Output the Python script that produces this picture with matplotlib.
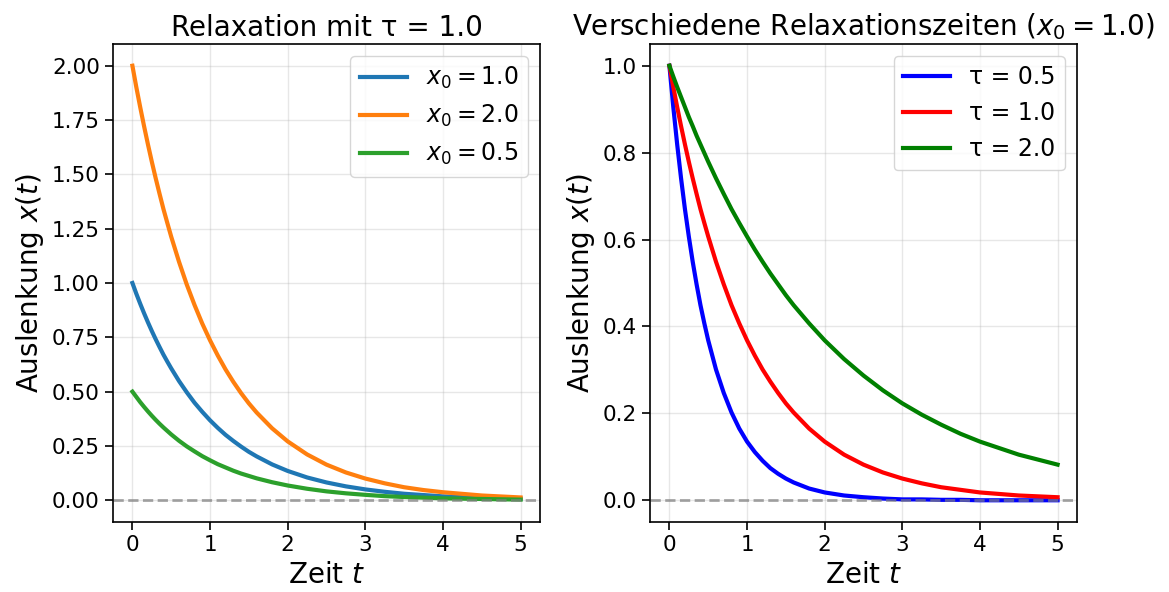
import matplotlib.pyplot as plt

# Zeitpunkte
t = [0, 0.05, 0.1, 0.15, 0.2, 0.25, 0.3, 0.35, 0.4, 0.45,
     0.5, 0.6, 0.7, 0.8, 0.9, 1.0, 1.1, 1.2, 1.3, 1.4, 1.5, 1.6,
     1.8, 2.0, 2.25, 2.5, 2.75, 3.0, 3.25, 3.5, 3.75, 4.0, 4.5, 5.0]

# linkes Diagramm: tau = 1.0, verschiedene Startwerte
x0_10 = [1.0, 0.951, 0.905, 0.861, 0.819, 0.779, 0.741, 0.705, 0.670, 0.638,
         0.607, 0.549, 0.497, 0.449, 0.407, 0.368, 0.333, 0.301, 0.273, 0.247, 0.223, 0.202,
         0.165, 0.135, 0.105, 0.082, 0.064, 0.050, 0.039, 0.030, 0.024, 0.018, 0.011, 0.007]
x0_20 = [2.0, 1.902, 1.81, 1.722, 1.638, 1.558, 1.482, 1.41, 1.34, 1.276,
         1.213, 1.098, 0.993, 0.899, 0.813, 0.736, 0.666, 0.602, 0.545, 0.493, 0.446, 0.404,
         0.331, 0.271, 0.211, 0.164, 0.128, 0.1, 0.078, 0.060, 0.047, 0.037, 0.022, 0.013]
x0_05 = [0.5, 0.476, 0.452, 0.430, 0.409, 0.389, 0.370, 0.352, 0.335, 0.319,
         0.303, 0.274, 0.248, 0.225, 0.203, 0.184, 0.166, 0.151, 0.136, 0.123, 0.112, 0.101,
         0.083, 0.068, 0.053, 0.041, 0.032, 0.025, 0.019, 0.015, 0.012, 0.009, 0.006, 0.003]

# rechtes Diagramm: x0 = 1.0, verschiedene Relaxationszeiten
tau_05 = [1.0, 0.905, 0.819, 0.741, 0.670, 0.607, 0.549, 0.497, 0.449, 0.407,
          0.368, 0.301, 0.247, 0.202, 0.165, 0.135, 0.111, 0.091, 0.074, 0.061, 0.050, 0.041,
          0.027, 0.018, 0.011, 0.007, 0.004, 0.002, 0.002, 0.001, 0.001, 0.0, 0.0, 0.0]
tau_10 = x0_10
tau_20 = [1.0, 0.975, 0.951, 0.928, 0.905, 0.882, 0.861, 0.839, 0.819, 0.799,
          0.779, 0.741, 0.705, 0.670, 0.638, 0.607, 0.577, 0.549, 0.522, 0.497, 0.472, 0.449,
          0.407, 0.368, 0.325, 0.287, 0.253, 0.223, 0.197, 0.174, 0.153, 0.135, 0.105, 0.082]

fig = plt.figure(figsize=(11.69, 5.92), dpi=100)
ax1 = fig.add_axes([113/1169, 70/592, 427/1169, 478/592])
ax2 = fig.add_axes([650/1169, 70/592, 427/1169, 478/592])

lw = 3.0
# links
ax1.plot(t, x0_10, lw=lw, color='#1f77b4', label=r'$x_0 = 1.0$')
ax1.plot(t, x0_20, lw=lw, color='#ff7f0e', label=r'$x_0 = 2.0$')
ax1.plot(t, x0_05, lw=lw, color='#2ca02c', label=r'$x_0 = 0.5$')
ax1.set_title('Relaxation mit τ = 1.0', fontsize=20)
ax1.set_ylim(-0.1, 2.1)
ax1.set_yticks([0, 0.25, 0.5, 0.75, 1.0, 1.25, 1.5, 1.75, 2.0])

# rechts
ax2.plot(t, tau_05, lw=lw, color='blue', label='τ = 0.5')
ax2.plot(t, tau_10, lw=lw, color='red', label='τ = 1.0')
ax2.plot(t, tau_20, lw=lw, color='green', label='τ = 2.0')
ax2.set_title(r'Verschiedene Relaxationszeiten ($x_0 = 1.0$)', fontsize=20)
ax2.set_ylim(-0.05, 1.05)

for ax in (ax1, ax2):
    ax.axhline(0, color='gray', ls='--', alpha=0.7, lw=2)
    ax.set_xlim(-0.25, 5.25)
    ax.set_xlabel(r'Zeit $t$', fontsize=20)
    ax.set_ylabel(r'Auslenkung $x(t)$', fontsize=20)
    ax.grid(True, alpha=0.3, lw=1)
    ax.tick_params(labelsize=15.5, length=6, width=1.2)
    ax.legend(fontsize=17, loc='upper right')
    for s in ax.spines.values():
        s.set_linewidth(1.2)

fig.savefig('out.png', dpi=100)
